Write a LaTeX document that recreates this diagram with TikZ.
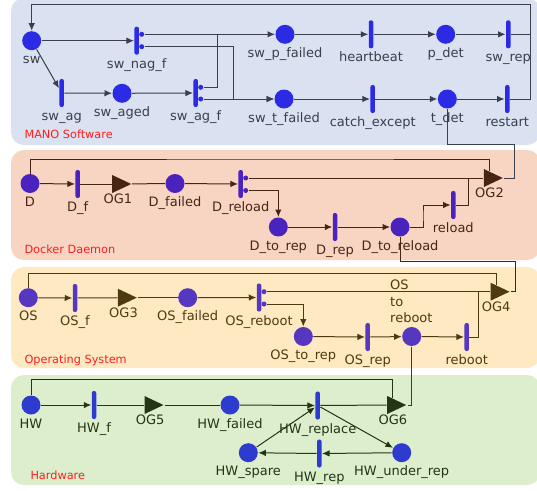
\documentclass[tikz,border=0pt]{standalone}
\usepackage{fontspec}
\setmainfont{DejaVu Sans}
\usetikzlibrary{arrows.meta,shapes.geometric}
\definecolor{manobg}{HTML}{DAE1F1}
\definecolor{manoline}{HTML}{3A3F4B}
\definecolor{manonode}{HTML}{2B2BE6}
\definecolor{dockerbg}{HTML}{F8D5C3}
\definecolor{dockerline}{HTML}{4A2413}
\definecolor{dockernode}{HTML}{4A22BE}
\definecolor{osbg}{HTML}{FEE9C3}
\definecolor{osline}{HTML}{4E3A0E}
\definecolor{osnode}{HTML}{5537C0}
\definecolor{hwbg}{HTML}{DCEECB}
\definecolor{hwline}{HTML}{233512}
\definecolor{hwnode}{HTML}{2D3BCF}
\definecolor{layertext}{HTML}{FF1E1E}
\tikzset{
  place/.style={circle, fill=#1, minimum size=19pt, inner sep=0pt},
  trans/.style={rectangle, rounded corners=2pt, fill=#1, minimum width=4.5pt, minimum height=28pt, inner sep=0pt},
  port/.style={circle, fill=#1, minimum size=5pt, inner sep=0pt},
  gate/.style={isosceles triangle, isosceles triangle stretches, fill, minimum width=18pt, minimum height=19pt, inner sep=0pt, anchor=lower side, label distance=10.5pt},
  layer/.style={text=layertext, font=\fontsize{11.3}{13}\selectfont, anchor=west, inner sep=0pt},
  every label/.style={inner sep=0pt, text height=9.5pt, text depth=3pt},
}

\begin{document}
\begin{tikzpicture}[x=1pt, y=-1pt, line width=1pt, label distance=3pt, >={Latex[length=7.5pt,width=6.5pt]}, font=\fontsize{13}{15}\selectfont]
   \useasboundingbox (0,0) rectangle (537,490);
   \fill[manobg, rounded corners=13pt] (11,-2) rectangle (540,145);
   \fill[dockerbg, rounded corners=13pt] (11,150) rectangle (540,260);
   \fill[osbg, rounded corners=13pt] (11,267) rectangle (540,368);
   \fill[hwbg, rounded corners=13pt] (11,375) rectangle (540,485);
   \node(mano) [layer] at (24,134) {MANO Software};
   \node(docker) [layer] at (24,249) {Docker Daemon};
   \node(opsys) [layer] at (24,360) {Operating System};
   \node(hardware) [layer] at (30,475) {Hardware};

   \begin{scope}[color=manoline]
   \node(sw) [place=manonode, label=below:sw] at (31.7,40.7) {};
   \node(swnagf) [trans=manonode, label=below:sw\_nag\_f] at (136.7,40.7) {};
   \node(nag1) [port=manonode] at (141.7,34.3) {};
   \node(nag2) [port=manonode] at (141.7,46.7) {};
   \node(swag) [trans=manonode, label=below:sw\_ag] at (61.7,93) {};
   \node(swaged) [place=manonode, label=below:sw\_aged] at (122,93.3) {};
   \node(swagf) [trans=manonode, label=below:sw\_ag\_f] at (195.7,93) {};
   \node(agf1) [port=manonode] at (200.7,87.3) {};
   \node(agf2) [port=manonode] at (200.7,99) {};
   \node(swpfailed) [place=manonode, label=below:sw\_p\_failed] at (285,34.3) {};
   \node(heartbeat) [trans=manonode, label=below:heartbeat] at (371,34.3) {};
   \node(pdet) [place=manonode, label=below:p\_det] at (445.7,34.3) {};
   \node(swrep) [trans=manonode, label=below:sw\_rep] at (508.3,34.3) {};
   \node(swtfailed) [place=manonode, label=below:sw\_t\_failed] at (284,99) {};
   \node(catchexcept) [trans=manonode, label=below:catch\_except] at (372.7,99) {};
   \node(tdet) [place=manonode, label=below:t\_det] at (447.3,99) {};
   \node(restart) [trans=manonode, label=below:restart] at (507.3,99) {};
   \draw[->] (sw) to (swnagf);
   \draw[->] (sw) to (swag);
   \draw[->] (swag) to (swaged);
   \draw[->] (swaged) to (swagf);
   \draw[->] (nag1) to (swpfailed);
   \draw[->] (nag2) -| (233.3,70) |- (swtfailed);
   \draw (agf1) -| (217.3,34.3);
   \draw[->] (agf2) to (swtfailed);
   \draw[->] (swpfailed) to (heartbeat);
   \draw[->] (heartbeat) to (pdet);
   \draw[->] (pdet) to (swrep);
   \draw[->] (swtfailed) to (catchexcept);
   \draw[->] (catchexcept) to (tdet);
   \draw[->] (tdet) to (restart);
   \draw[->] (swrep) -| (530,4) -| (sw);
   \draw (restart) -| (530,34.3);
   \end{scope}

   \begin{scope}[color=dockerline]
   \node(D) [place=dockernode, label=below:D] at (30,183.5) {};
   \node(Df) [trans=dockernode, label=below:D\_f] at (77.7,184) {};
   \node(OG1) [gate, label=below:OG1] at (111.7,184) {};
   \node(Dfailed) [place=dockernode, label=below:D\_failed] at (175,183.5) {};
   \node(Dreload) [trans=dockernode, label=below:D\_reload] at (240.7,184) {};
   \node(rel1) [port=dockernode] at (245.7,178) {};
   \node(rel2) [port=dockernode] at (245.7,190.5) {};
   \node(OG2) [gate, label=below:OG2] at (483.3,178) {};
   \node(Dtorep) [place=dockernode, label=below:D\_to\_rep] at (278.3,227) {};
   \node(Drep) [trans=dockernode, label=below:D\_rep] at (335,227) {};
   \node(Dtoreload) [place=dockernode, label=below:D\_to\_reload] at (400,227) {};
   \node(reload) [trans=dockernode, label=below:reload] at (453.3,205) {};
   \draw[->] (D) to (Df);
   \draw (Df) to (OG1);
   \draw (OG1) to (Dfailed);
   \draw[->] (Dfailed) to (Dreload);
   \draw (D) |- (300,159) -| (OG2);
   \draw (rel1) to (OG2);
   \draw[->] (rel2) -| (Dtorep);
   \draw[->] (Dtorep) to (Drep);
   \draw[->] (Drep) to (Dtoreload);
   \draw[->] (Dtoreload) -| (423,215) |- (reload);
   \draw (reload) -| (468.3,178);
   \end{scope}
   \draw[manoline] (tdet) |- (514,144) |- (OG2.apex);

   \begin{scope}[color=osline]
   \node(OS) [place=osnode, label=below:OS] at (28.3,297.7) {};
   \node(OSf) [trans=osnode, label=below:OS\_f] at (75,298) {};
   \node(OG3) [gate, label=below:OG3] at (117.3,297.7) {};
   \node(OSfailed) [place=osnode, label=below:OS\_failed] at (187.7,297.7) {};
   \node(OSreboot) [trans=osnode, label=below:OS\_reboot] at (259,297.5) {};
   \node(boot1) [port=osnode] at (264,291.7) {};
   \node(boot2) [port=osnode] at (264,304) {};
   \node(OG4) [gate, label=below:OG4] at (490,291.7) {};
   \node(OStorep) [place=osnode, label=below:OS\_to\_rep] at (303.3,336.5) {};
   \node(OSrep) [trans=osnode, label=below:OS\_rep] at (367.7,337) {};
   \node(OStoreboot) [place=osnode, label={[align=left, anchor=south west, xshift=-22pt, text height=, text depth=, font=\fontsize{13}{16.7}\selectfont]above:OS\\to\\reboot}] at (411.7,336.5) {};
   \node(reboot) [trans=osnode, label=below:reboot] at (466.7,337) {};
   \draw[->] (OS) to (OSf);
   \draw (OSf) to (OG3);
   \draw (OG3) to (OSfailed);
   \draw[->] (OSfailed) to (OSreboot);
   \draw (OS) |- (300,273.3) -| (OG4);
   \draw (boot1) to (OG4);
   \draw[->] (boot2) -| (OStorep);
   \draw[->] (OStorep) to (OSrep);
   \draw[->] (OSrep) to (OStoreboot);
   \draw[->] (OStoreboot) to (reboot);
   \draw (reboot) -| (478.3,291.7);
   \end{scope}
   \draw[dockerline] (Dtoreload) |- (515,261) |- (OG4.apex);

   \begin{scope}[color=hwline]
   \node(HW) [place=hwnode, label=below:HW] at (31,405) {};
   \node(HWf) [trans=hwnode, label=below:HW\_f] at (94,405) {};
   \node(OG5) [gate, label=below:OG5] at (144,405) {};
   \node(HWfailed) [place=hwnode, label=below:HW\_failed] at (230,405) {};
   \node(HWreplace) [trans=hwnode, label=below:HW\_replace] at (317.7,405.5) {};
   \node(OG6) [gate, label=below:OG6] at (386.7,405) {};
   \node(HWspare) [place=hwnode, label=below:HW\_spare] at (248.3,452.7) {};
   \node(HWrep) [trans=hwnode, label=below:HW\_rep] at (319.3,453.5) {};
   \node(HWunderrep) [place=hwnode, label=below:HW\_under\_rep] at (401.7,452.7) {};
   \draw[->] (HW) to (HWf);
   \draw (HWf) to (OG5);
   \draw (OG5) to (HWfailed);
   \draw[->] (HWfailed) to (HWreplace);
   \draw (HWreplace) to (OG6);
   \draw (HW) |- (300,379.3) -| (OG6);
   \draw[->] (HWreplace) to (HWunderrep);
   \draw[->] (HWunderrep) to (HWrep);
   \draw[->] (HWrep) to (HWspare);
   \draw[->] (HWspare) to (HWreplace);
   \end{scope}
   \draw[osline] (OStoreboot) |- (OG6.apex);
\end{tikzpicture}
\end{document}
